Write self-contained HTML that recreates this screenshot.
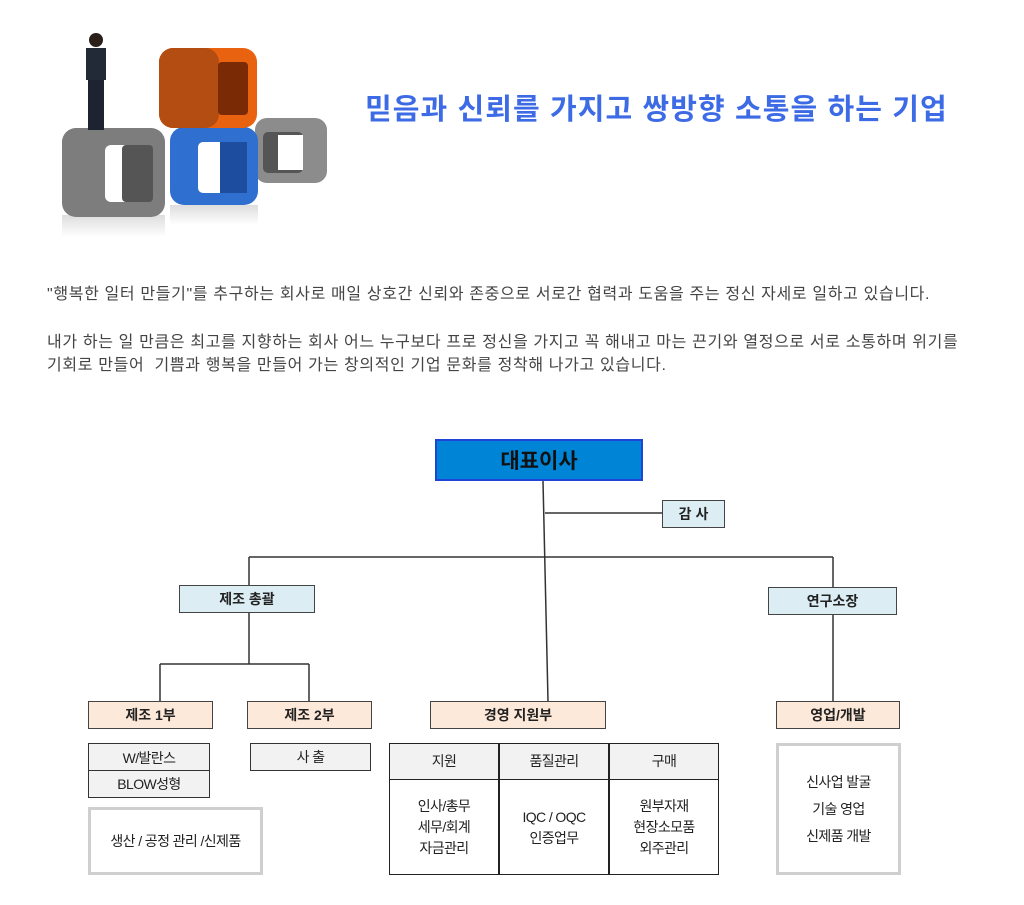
<!DOCTYPE html>
<html><head><meta charset="utf-8"><style>
*{margin:0;padding:0;box-sizing:border-box}
body{width:1024px;height:905px;background:#fff;position:relative;font-family:"Liberation Sans","Noto Sans CJK KR",sans-serif;overflow:hidden}
.a{position:absolute}
.t{font-size:16px;color:#444;left:47px;letter-spacing:0.65px;white-space:nowrap}
.b{position:absolute;display:flex;align-items:center;justify-content:center;font-weight:bold;font-size:14px;color:#222;border:1.5px solid #444}
.lb{background:#dcedf4}
.pk{background:#fde9d9}
.g{background:#f2f2f2;font-weight:normal;font-size:14px;letter-spacing:-0.6px;border:1.5px solid #333;position:absolute;display:flex;align-items:center;justify-content:center;color:#222}
.gb{position:absolute;border:3px solid #cfcfcf;display:flex;align-items:center;justify-content:center;text-align:center;font-size:14px;letter-spacing:-0.6px;color:#222;line-height:27px}
.c{position:absolute;display:flex;align-items:center;justify-content:center;text-align:center;font-size:14px;letter-spacing:-0.6px;color:#222;line-height:21px}
</style></head><body>
<svg class="a" style="left:0;top:0" width="360" height="250">
<defs><linearGradient id="fade" x1="0" y1="0" x2="0" y2="1"><stop offset="0" stop-color="#ddd"/><stop offset="1" stop-color="#fff"/></linearGradient></defs>
<rect x="62" y="215" width="103" height="22" fill="url(#fade)"/>
<rect x="170" y="205" width="88" height="20" fill="url(#fade)"/>
<rect x="62" y="128" width="103" height="89" rx="14" fill="#7d7d7d"/>
<rect x="105" y="145" width="48" height="57" rx="6" fill="#fff"/>
<rect x="122" y="145" width="31" height="57" rx="4" fill="#555"/>
<rect x="255" y="118" width="72" height="65" rx="12" fill="#8c8c8c"/>
<rect x="263" y="132" width="40" height="41" rx="5" fill="#555"/>
<rect x="278" y="135" width="25" height="35" fill="#fff"/>
<rect x="170" y="127" width="88" height="78" rx="14" fill="#2f6fcf"/>
<rect x="198" y="142" width="49" height="51" rx="5" fill="#fff"/>
<rect x="220" y="142" width="27" height="51" fill="#1d4d9e"/>
<rect x="159" y="48" width="98" height="80" rx="14" fill="#e8620f"/>
<rect x="159" y="48" width="60" height="80" rx="14" fill="#b34d12"/>
<rect x="218" y="62" width="30" height="53" rx="4" fill="#7a2a05"/>
<rect x="88" y="55" width="16" height="75" fill="#1d2330"/>
<rect x="86" y="48" width="20" height="32" fill="#222a38"/>
<circle cx="96" cy="40" r="7" fill="#2a1f1a"/>
</svg>
<div class="a" style="left:365px;top:86px;font-size:29px;font-weight:bold;color:#3d6be6;letter-spacing:1.1px;white-space:nowrap">믿음과 신뢰를 가지고 쌍방향 소통을 하는 기업</div>
<div class="a t" style="top:280px">"행복한 일터 만들기"를 추구하는 회사로 매일 상호간 신뢰와 존중으로 서로간 협력과 도움을 주는 정신 자세로 일하고 있습니다.</div>
<div class="a t" style="top:328px">내가 하는 일 만큼은 최고를 지향하는 회사 어느 누구보다 프로 정신을 가지고 꼭 해내고 마는 끈기와 열정으로 서로 소통하며 위기를</div>
<div class="a t" style="top:351px">기회로 만들어 &nbsp;기쁨과 행복을 만들어 가는 창의적인 기업 문화를 정착해 나가고 있습니다.</div>

<svg class="a" style="left:0;top:0" width="1024" height="905">
<g stroke="#333" stroke-width="1.5" fill="none">
<line x1="543" y1="481" x2="548" y2="701"/>
<line x1="545" y1="513" x2="662" y2="513"/>
<line x1="249" y1="557" x2="833" y2="557"/>
<line x1="249" y1="557" x2="249" y2="585"/>
<line x1="833" y1="557" x2="833" y2="587"/>
<line x1="249" y1="613" x2="249" y2="664"/>
<line x1="160" y1="664" x2="309" y2="664"/>
<line x1="160" y1="664" x2="160" y2="701"/>
<line x1="309" y1="664" x2="309" y2="701"/>
<line x1="833" y1="615" x2="833" y2="701"/>
</g></svg>

<div class="b" style="left:435px;top:439px;width:208px;height:42px;background:#0084d6;border:2px solid #1f45d6;font-size:21px;color:#111">대표이사</div>
<div class="b lb" style="left:662px;top:500px;width:63px;height:28px">감 사</div>
<div class="b lb" style="left:179px;top:585px;width:136px;height:28px">제조 총괄</div>
<div class="b lb" style="left:768px;top:587px;width:129px;height:28px">연구소장</div>
<div class="b pk" style="left:88px;top:701px;width:125px;height:28px">제조 1부</div>
<div class="b pk" style="left:247px;top:701px;width:125px;height:28px">제조 2부</div>
<div class="b pk" style="left:430px;top:701px;width:176px;height:28px">경영 지원부</div>
<div class="b pk" style="left:776px;top:701px;width:124px;height:28px">영업/개발</div>

<div class="g" style="left:88px;top:743px;width:122px;height:29px">W/발란스</div>
<div class="g" style="left:88px;top:770px;width:122px;height:28px">BLOW성형</div>
<div class="g" style="left:250px;top:743px;width:121px;height:28px">사 출</div>
<div class="gb" style="left:88px;top:807px;width:175px;height:68px">생산 / 공정 관리 /신제품</div>
<div class="gb" style="left:776px;top:743px;width:125px;height:132px">신사업 발굴<br>기술 영업<br>신제품 개발</div>

<div class="a" style="left:389px;top:743px;width:330px;height:132px;border:1.5px solid #222"></div>
<div class="a" style="left:390px;top:744px;width:328px;height:36px;background:#f2f2f2;border-bottom:1.5px solid #222"></div>
<div class="a" style="left:498px;top:743px;width:1.5px;height:132px;background:#222"></div>
<div class="a" style="left:608px;top:743px;width:1.5px;height:132px;background:#222"></div>
<div class="c" style="left:389px;top:743px;width:110px;height:37px">지원</div>
<div class="c" style="left:499px;top:743px;width:110px;height:37px">품질관리</div>
<div class="c" style="left:609px;top:743px;width:110px;height:37px">구매</div>
<div class="c" style="left:389px;top:780px;width:110px;height:95px">인사/총무<br>세무/회계<br>자금관리</div>
<div class="c" style="left:499px;top:780px;width:110px;height:95px">IQC / OQC<br>인증업무</div>
<div class="c" style="left:609px;top:780px;width:110px;height:95px">원부자재<br>현장소모품<br>외주관리</div>
</body></html>
